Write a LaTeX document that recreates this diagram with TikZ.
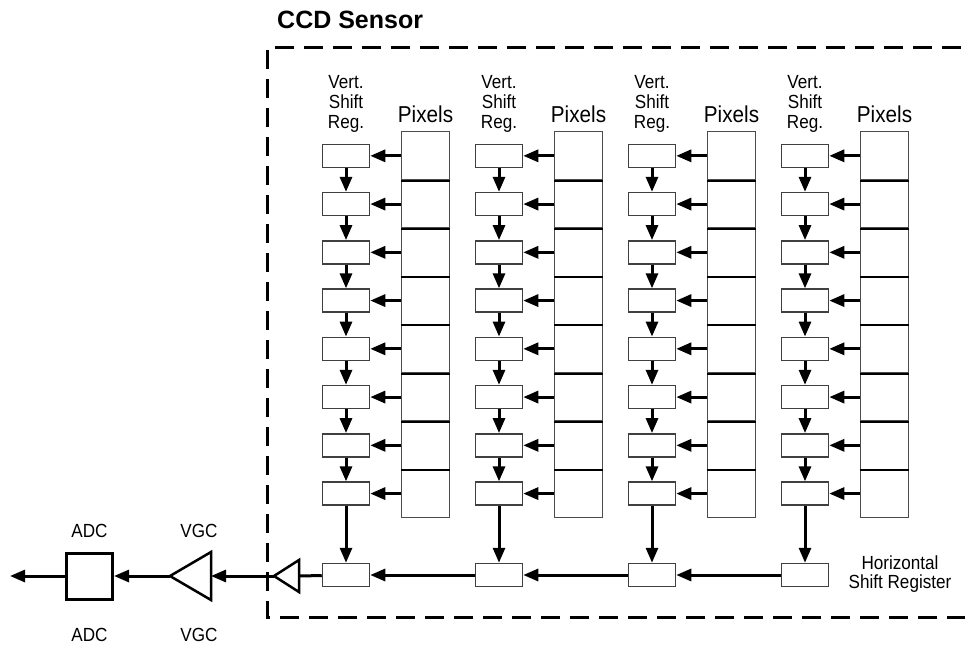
\documentclass[tikz,border=0pt]{standalone}
\usepackage{fontspec}
\setmainfont{Liberation Sans}
\newfontfamily\narrowsf[FakeStretch=0.9]{Liberation Sans}
\usetikzlibrary{arrows.meta,positioning}

\tikzset{
  reg/.style={draw=black!75,line width=1.5pt,fill=white,minimum width=47pt,minimum height=23pt,inner sep=0pt},
  pixel/.style={draw=black!70,line width=1.5pt,minimum width=48pt,minimum height=48.25pt,inner sep=0pt},
  flow/.style={line width=3pt,-{Triangle[length=15pt,width=12pt]}},
  amp/.style={line width=2.5pt,line join=miter},
  lbl/.style={font=\narrowsf\fontsize{19}{19.7}\selectfont,inner sep=0pt,align=center},
}

\begin{document}
\begin{tikzpicture}[x=1pt,y=-1pt]
\useasboundingbox (0,0) rectangle (965,647);

% sensor outline
\node[font=\bfseries\fontsize{25}{30}\selectfont,anchor=base west,inner sep=0pt] (title) at (277,28.5) {CCD Sensor};
\draw[line width=3pt,dash pattern=on 19pt off 10pt] (990,48) -- (267,48) -- (267,617) -- (990,617);

% columns
\foreach \c in {1,...,4}{
  \pgfmathsetmacro\rx{346+153*(\c-1)}
  \pgfmathsetmacro\px{\rx+79.5}
  \node[lbl] (vlbl\c) at (\rx,104) {Vert.\\Shift\\Reg.};
  \node[font=\narrowsf\fontsize{23}{26}\selectfont,anchor=base,inner sep=0pt] (plbl\c) at (\px,122.3) {Pixels};
  \foreach \r in {1,...,8}{
    \pgfmathsetmacro\ry{131.7+48.25*(\r-0.5)}
    \node[pixel] (pix\c-\r) at (\px,\ry) {};
    \node[reg] (vreg\c-\r) at (\rx,\ry) {};
    \draw[flow] (pix\c-\r) -- (vreg\c-\r);
  }
  \foreach \r [evaluate=\r as \n using int(\r+1)] in {1,...,7}{
    \draw[line width=2pt] (pix\c-\r.south west) -- (pix\c-\r.south east);
    \draw[flow] (vreg\c-\r) -- (vreg\c-\n);
  }
  \node[reg] (hreg\c) at (\rx,575) {};
  \draw[flow] (vreg\c-8) -- (hreg\c);
}
\draw[flow] (hreg4) -- (hreg3);
\draw[flow] (hreg3) -- (hreg2);
\draw[flow] (hreg2) -- (hreg1);
\node[lbl] (hlbl) at (900,574) {Horizontal\\Shift Register};

% output stage
\coordinate (bufin) at (299,576);
\coordinate (bufout) at (274,576);
\draw[amp] (299,560) -- (299,592) -- (bufout) -- cycle;
\coordinate (vgcin) at (211,576);
\coordinate (vgcout) at (170,576);
\draw[amp] (211,552) -- (211,600) -- (vgcout) -- cycle;
\node[draw,line width=3pt,minimum size=46pt,inner sep=0pt] (adc) at (89.5,576) {};
\coordinate (out) at (10,576);

\draw[line width=3pt] (hreg1) -- (bufin);
\draw[flow] (bufout) -- (vgcin);
\draw[flow] (vgcout) -- (adc);
\draw[flow] (adc) -- (out);

\node[lbl,anchor=base] (adcup) at (89.5,537) {ADC};
\node[lbl,anchor=base] (adcdn) at (89.5,641) {ADC};
\node[lbl,anchor=base] (vgcup) at (199,537) {VGC};
\node[lbl,anchor=base] (vgcdn) at (199,641) {VGC};
\end{tikzpicture}
\end{document}
